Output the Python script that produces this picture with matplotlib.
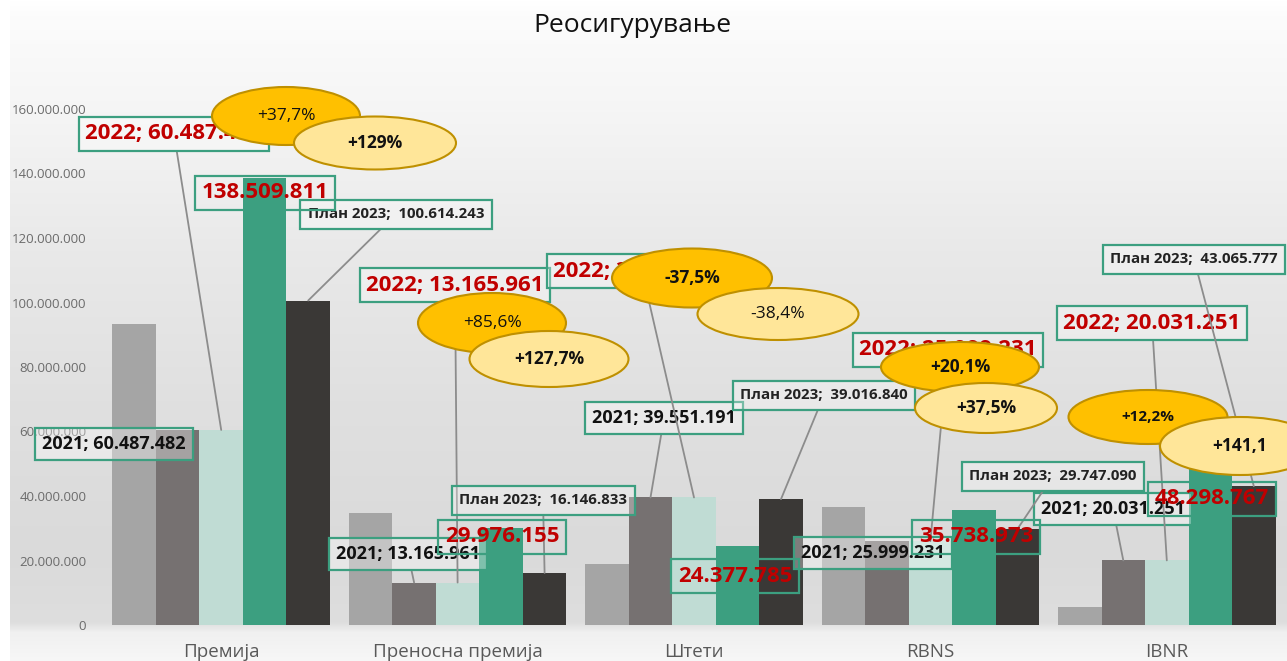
import matplotlib
matplotlib.use("Agg")
import matplotlib.pyplot as plt
import numpy as np
from matplotlib.patches import Ellipse
from matplotlib.ticker import FuncFormatter
from matplotlib.transforms import IdentityTransform

W, H, DPI = 1287, 661, 100

categories = ["Премија", "Преносна премија", "Штети", "RBNS", "IBNR"]
series_prior = [93.3e6, 34.7e6, 19.0e6, 36.5e6, 5.6e6]
series_2021 = [60487482, 13165961, 39551191, 25999231, 20031251]
series_2022 = [60487482, 13165961, 39551191, 25999231, 20031251]
series_2023 = [138509811, 29976155, 24377785, 35738973, 48298767]
series_plan = [100614243, 16146833, 39016840, 29747090, 43065777]
change_a = ["+37,7%", "+85,6%", "-37,5%", "+20,1%", "+12,2%"]
change_b = ["+129%", "+127,7%", "-38,4%", "+37,5%", "+141,1"]
yticks = [0, 20e6, 40e6, 60e6, 80e6, 100e6, 120e6, 140e6, 160e6]

COLORS = ["#A5A5A5", "#767171", "#C0DCD4", "#3C9F80", "#3A3836"]
GREEN = "#3C9F80"
RED = "#C00000"
LEAD = "#8C8C8C"

# label boxes: centre in image pixels (from top-left)
pos_2021 = [(114, 444), (408, 554), (664, 418), (873, 553), (1113, 509)]
pos_2022 = [(174, 134), (455, 285), (642, 271), (948, 350), (1152, 323)]
pos_2023 = [(265, 193), (502, 537), (735, 576), (976, 537), (1212, 499)]
pos_plan = [(396, 214), (543, 500), (824, 395), (1053, 476), (1194, 259)]
lead_2021 = [False, True, True, False, True]

# callout ellipses: cx, cy, width, height (image pixels)
ell_a = [(286, 116, 148, 58), (492, 323, 148, 60), (692, 278, 160, 59),
         (960, 367, 158, 50), (1148, 417, 159, 54)]
ell_b = [(375, 143, 162, 53), (549, 359, 159, 56), (778, 314, 161, 52),
         (986, 408, 142, 50), (1240, 446, 160, 58)]
bold_a = [False, False, True, True, True]
bold_b = [True, True, False, True, True]
size_a = [12.5, 12.5, 12.5, 12.5, 11]

plt.rcParams["font.family"] = ["Open Sans", "DejaVu Sans"]


def fmt(v):
    return f"{v:,.0f}".replace(",", ".")


fig = plt.figure(figsize=(W / DPI, H / DPI), dpi=DPI)

# background gradient of the chart area
stops_y = [0, 15, 100, 250, 400, 550, 622, 632, 661]
stops_v = [255, 252, 246, 233, 224, 218, 222, 240, 247]
g = np.interp(np.arange(H), stops_y, stops_v) / 255.0
img = np.repeat(g[:, None], W, axis=1)
img[:, :10] = 1.0
bg = fig.add_axes([0, 0, 1, 1], zorder=-5)
bg.imshow(np.dstack([img, img, img]), extent=[0, W, 0, H], aspect="auto")
bg.axis("off")

ax = fig.add_axes([103 / W, (H - 625) / H, 1182 / W, 516 / H])
ax.set_facecolor("none")
x = np.arange(len(categories))
bw = 0.184
all_series = [series_prior, series_2021, series_2022, series_2023, series_plan]
for k, vals in enumerate(all_series):
    ax.bar(x + (k - 2) * bw, vals, width=bw, color=COLORS[k], zorder=2)

ax.set_xlim(-0.5, 4.5)
ax.set_ylim(0, 160e6)
ax.set_yticks(yticks)
ax.yaxis.set_major_formatter(FuncFormatter(lambda v, p: fmt(v)))
ax.set_xticks(x)
ax.set_xticklabels(categories, fontsize=13.5, color="#595959")
ax.tick_params(axis="y", length=0, pad=12, labelsize=9.5, labelcolor="#6B6B6B")
ax.tick_params(axis="x", length=0, pad=13)
for s in ax.spines.values():
    s.set_visible(False)


def label(text, xy, centre, size, color, lead, z, pad, alpha):
    arrow = None
    if lead:
        arrow = dict(arrowstyle="-", color=LEAD, lw=1.3, shrinkA=0, shrinkB=0)
    ax.annotate(text, xy=xy, xytext=(centre[0], H - centre[1]),
                textcoords="figure pixels", ha="center", va="center",
                fontsize=size, color=color, fontweight="bold", zorder=z,
                annotation_clip=False, arrowprops=arrow,
                bbox=dict(boxstyle=f"square,pad={pad}", fc=(1, 1, 1, alpha),
                          ec=GREEN, lw=1.6))


for i in range(len(categories)):
    label(f"2021; {fmt(series_2021[i])}", (x[i] - bw, series_2021[i]),
          pos_2021[i], 13, "#111111", lead_2021[i], 5, 0.4, 0.35)
    label(f"2022; {fmt(series_2022[i])}", (x[i], series_2022[i]),
          pos_2022[i], 16, RED, True, 6, 0.3, 0.3)
    label(f"План 2023;  {fmt(series_plan[i])}", (x[i] + 2 * bw, series_plan[i]),
          pos_plan[i], 10.8, "#222222", True, 6, 0.5, 0.3)
    label(fmt(series_2023[i]), (x[i] + bw, series_2023[i]),
          pos_2023[i], 16, RED, False, 7, 0.3, 0.0)

    for ell, txt, bold, fc, z, fs in (
            (ell_a[i], change_a[i], bold_a[i], "#FFC000", 8, size_a[i]),
            (ell_b[i], change_b[i], bold_b[i], "#FFE699", 9, 12.5)):
        cx, cy, ew, eh = ell
        fig.add_artist(Ellipse((cx, H - cy), ew, eh, transform=IdentityTransform(),
                               fc=fc, ec="#BF9000", lw=1.5, zorder=z))
        fig.text(cx / W, 1 - cy / H, txt, ha="center", va="center",
                 fontsize=fs, fontweight="bold" if bold else "normal",
                 color="#111111", zorder=z + 0.5)

fig.text(632 / W, 1 - 26 / H, "Реосигурување", ha="center", va="center",
         fontsize=19, color="#111111")

fig.savefig("out.png", dpi=DPI)
